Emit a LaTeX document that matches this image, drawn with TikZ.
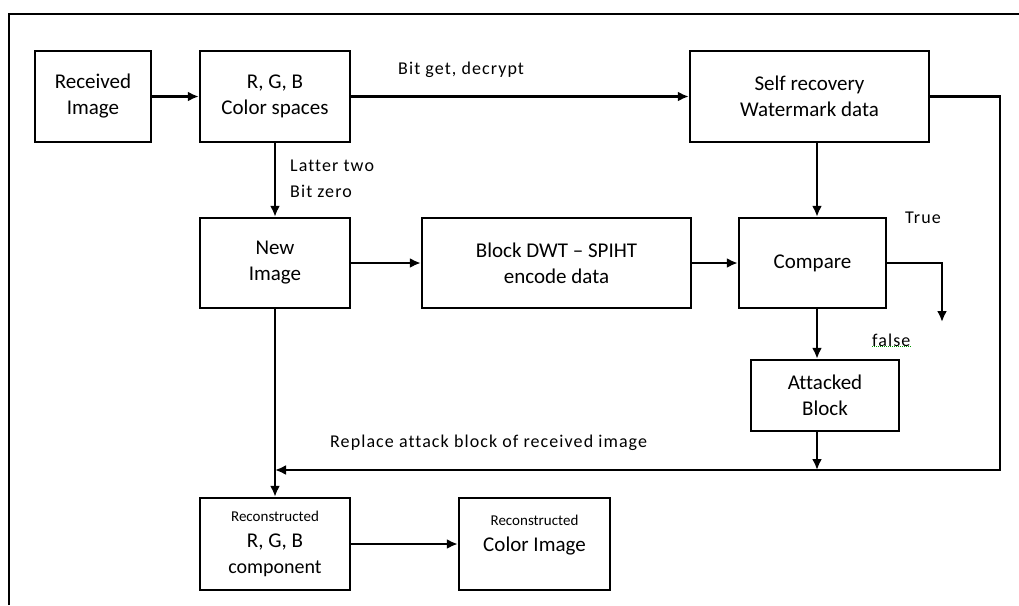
\documentclass[tikz,border=0pt]{standalone}
\usepackage{fontspec}
\setmainfont{Carlito}[Ligatures=NoCommon]
\newfontfamily\lblfont[LetterSpace=6,Ligatures=NoCommon]{Carlito}
\usepackage{tikz}
\usetikzlibrary{arrows.meta}

\tikzset{
  blk/.style={draw, line width=2.4pt, align=center, inner sep=2pt,
              font=\fontsize{21}{26}\selectfont},
  lbl/.style={font=\lblfont\fontsize{18}{26}\selectfont, inner sep=0pt},
  conn/.style={line width=2.2pt, ->},
}

\begin{document}
\begin{tikzpicture}[x=1pt, y=-1pt, >={Latex[length=11pt,width=10pt]}]
    \useasboundingbox (0,0) rectangle (1019,605);
    \draw [line width=2.5pt] (9,605) -- (9,14) -- (1019,14); % frame
    % boxes
    \node[blk, minimum width=116pt, minimum height=91pt] (recv) at (93,96.5) {Received\\Image};
    \node[blk, minimum width=150pt, minimum height=91pt] (rgb) at (275,96.5) {R, G, B\\Color spaces};
    \node[blk, minimum width=239pt, minimum height=91pt] (selfrec) at (809.5,96.5) {Self recovery\\Watermark data};
    \node[blk, minimum width=150pt, minimum height=90pt] (newimg) at (275,263) {New\\Image};
    \node[blk, minimum width=269pt, minimum height=90pt] (dwt) at (556.5,263) {Block DWT -- SPIHT\\encode data};
    \node[blk, minimum width=147pt, minimum height=90pt] (cmp) at (812.5,263) {Compare};
    \node[blk, minimum width=148pt, minimum height=71pt] (atk) at (825,395.5) {Attacked\\Block};
    \node[blk, minimum width=150pt, minimum height=92pt] (recrgb) at (275,544)
        {{\fontsize{15}{22}\selectfont Reconstructed}\\R, G, B\\{\fontsize{20}{24}\selectfont component}};
    \node[blk, minimum width=151pt, minimum height=92pt] (reccol) at (534.5,544)
        {{\fontsize{15}{22}\selectfont Reconstructed}\\Color Image\\[-4pt]\mbox{}};
    \coordinate (vx) at (817,0);     % compare column
    \coordinate (rt) at (1000,470);  % return corner
    \coordinate (tr) at (942,322);   % true end
    % connectors
    \draw [conn] (recv) -- (rgb);
    \draw [conn] (rgb) -- (selfrec);
    \draw [conn] (rgb) -- (newimg);
    \draw [conn] (newimg) -- (dwt);
    \draw [conn] (dwt) -- (cmp);
    \draw [conn] (selfrec.south -| vx) -- (cmp.north -| vx);
    \draw [conn] (cmp.south -| vx) -- (atk.north -| vx);
    \draw [conn] (cmp.east) -- (cmp.east -| tr) -- (tr);
    \draw [conn] (atk.south -| vx) -- (rt -| vx);
    \draw [conn] (selfrec.east) -- (selfrec.east -| rt) -- (rt) -- (rt -| newimg);
    \draw [conn] (newimg) -- (recrgb);
    \draw [conn] (recrgb) -- (reccol);
    % labels
    \node[lbl, anchor=west] (lget) at (398,70) {Bit get, decrypt};
    \node[lbl, anchor=west, align=left] (lbit) at (290,179) {Latter two\\Bit zero};
    \node[lbl, anchor=west] (ltrue) at (905,218) {True};
    \node[lbl, anchor=west] (lfalse) at (872,340) {false};
    \draw [green!60!black, densely dotted, line width=1pt] (lfalse.south west) -- (lfalse.south east);
    \node[lbl, anchor=west] (lrep) at (330,443) {Replace attack block of received image};
\end{tikzpicture}
\end{document}
